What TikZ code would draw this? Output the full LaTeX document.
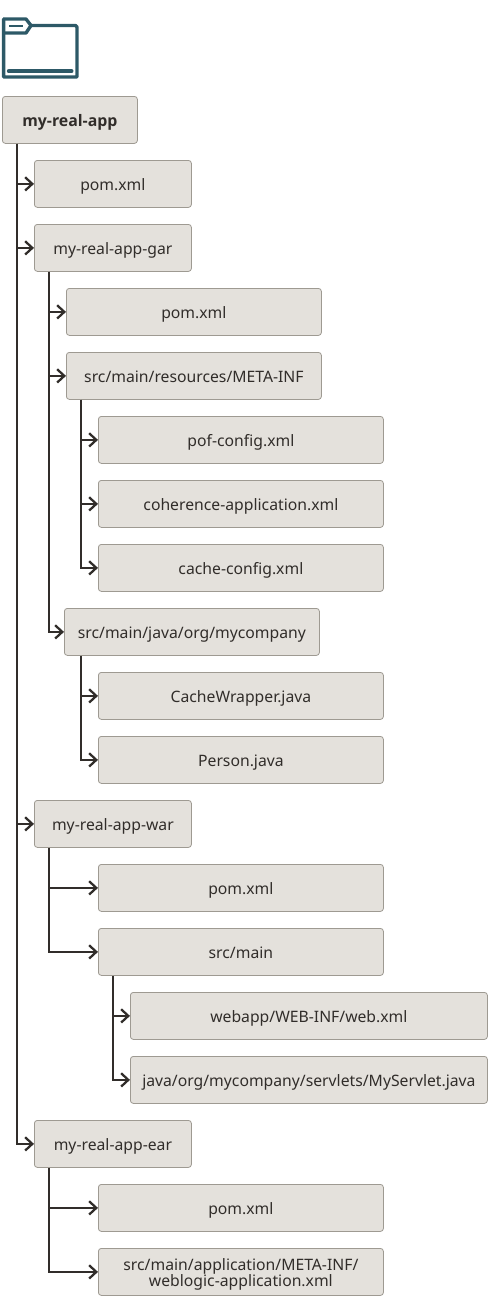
\documentclass[tikz,border=0pt]{standalone}
\usepackage{fontspec}
\setmainfont{Noto Sans}
\newfontfamily\rootfont{Open Sans}
\usetikzlibrary{arrows.meta,positioning}
\definecolor{boxfill}{HTML}{E4E1DC}
\definecolor{boxline}{HTML}{9E9A92}
\definecolor{inkc}{HTML}{312D2A}
\definecolor{folderc}{HTML}{2D5967}
\newcommand\lowerline[1]{\raisebox{-1.9pt}[\height][\depth]{#1}}
\tikzset{
  x=0.75pt,y=-0.75pt,
  fbox/.style={draw=boxline,fill=boxfill,line width=0.6pt,rounded corners=2.2pt,
    text=inkc,font=\fontsize{11.8}{12.6}\selectfont,align=center,inner sep=0pt,anchor=north west},
  lined/.style={fbox,execute at begin node={\rule[-3.2pt]{0pt}{16.2pt}}},
  w135/.style={lined,minimum width=101.25pt,minimum height=35.25pt},
  w157/.style={lined,minimum width=117.75pt,minimum height=35.25pt},
  w255/.style={lined,minimum width=191.25pt,minimum height=35.25pt},
  w285/.style={lined,minimum width=213.75pt,minimum height=35.25pt},
  w357/.style={lined,minimum width=267.75pt,minimum height=35.25pt},
  twolines/.style={fbox,minimum width=213.75pt,minimum height=35.25pt},
  conn/.style={draw=inkc,line width=1.7pt,-{Straight Barb[length=5.4pt,width=10pt,line width=1.7pt]},rounded corners=0pt},
  folderline/.style={draw=folderc,line width=2.5pt,line join=round}
}
\begin{document}
\begin{tikzpicture}
\useasboundingbox (0,0) rectangle (488,1296);
% folder icon
\draw[folderline] (3.6,19) -- (26,19) -- (31,25.5) -- (26,33) -- (3.6,33);
\draw[folderline,line cap=round] (31,25.5) -- (75.5,25.5) -- (77,27) -- (77,77) -- (3.6,77) -- (3.6,19);
\draw[folderline,line width=2.2pt] (9,26) -- (23,26);
\draw[folderline,line width=3pt,line cap=round] (8.8,71.2) -- (71.5,71.2);
% boxes
\node[w135,font=\fontsize{11.9}{12.6}\selectfont\rootfont\bfseries] (root) at (2,96) {my-real-app};
\node[w157] (pomA) at (34,160) {pom.xml};
\node[w157] (gar) at (34,224) {my-real-app-gar};
\node[w255] (pomB) at (66,288) {pom.xml};
\node[w255] (res) at (66,352) {src/main/resources/META-INF};
\node[w285] (pof) at (98,416) {pof-config.xml};
\node[w285] (coh) at (98,480) {coherence-application.xml};
\node[w285] (cache) at (98,544) {cache-config.xml};
\node[w255] (jav) at (64,608) {src/main/java/org/mycompany};
\node[w285] (wrap) at (98,672) {CacheWrapper.java};
\node[w285] (person) at (98,736) {Person.java};
\node[w157] (war) at (34,800) {my-real-app-war};
\node[w285] (pomC) at (98,864) {pom.xml};
\node[w285] (srcm) at (98,928) {src/main};
\node[w357] (web) at (130,992) {webapp/WEB-INF/web.xml};
\node[w357] (servlet) at (130,1056) {java/org/mycompany/servlets/MyServlet.java};
\node[w157] (ear) at (34,1120) {my-real-app-ear};
\node[w285] (pomD) at (98,1184) {pom.xml};
\node[twolines] (wl) at (98,1248) {\lowerline{src/main/application/META-INF/}\\\lowerline{weblogic-application.xml}};
% connectors
\foreach \c in {pomA,gar,war,ear}
  \draw[conn] ([xshift=11.25pt]root.south west) |- (\c.west);
\foreach \c in {pomB,res,jav}
  \draw[conn] ([xshift=11.25pt]gar.south west) |- (\c.west);
\foreach \c in {pof,coh,cache}
  \draw[conn] ([xshift=11.25pt]res.south west) |- (\c.west);
\foreach \c in {wrap,person}
  \draw[conn] ([xshift=12.75pt]jav.south west) |- (\c.west);
\foreach \c in {pomC,srcm}
  \draw[conn] ([xshift=11.25pt]war.south west) |- (\c.west);
\foreach \c in {web,servlet}
  \draw[conn] ([xshift=11.25pt]srcm.south west) |- (\c.west);
\foreach \c in {pomD,wl}
  \draw[conn] ([xshift=11.25pt]ear.south west) |- (\c.west);
\end{tikzpicture}
\end{document}
